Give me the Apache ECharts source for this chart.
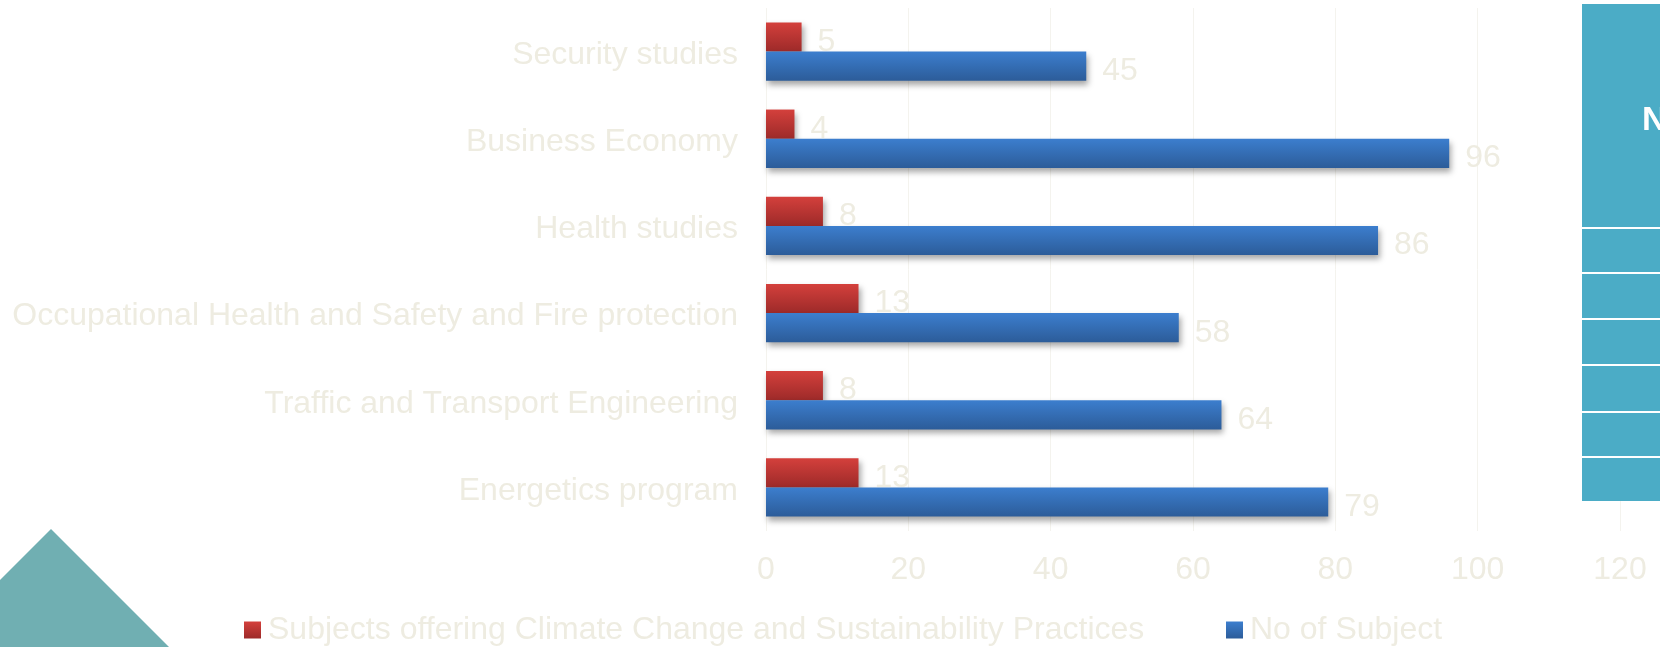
<!DOCTYPE html>
<html>
<head>
<meta charset="utf-8">
<script src="https://cdn.jsdelivr.net/npm/echarts@6/dist/echarts.min.js"></script>
<style>
html,body{margin:0;padding:0;background:#ffffff;}
#chart{width:1660px;height:647px;}
</style>
</head>
<body>
<div id="chart"></div>
<script>
var categories = ['Security studies', 'Business Economy', 'Health studies', 'Occupational Health and Safety and Fire protection', 'Traffic and Transport Engineering', 'Energetics program'];
var climateSubjects = [5, 4, 8, 13, 8, 13];
var totalSubjects = [45, 96, 86, 58, 64, 79];
var seriesNames = ['Subjects offering Climate Change and Sustainability Practices', 'No of Subject'];

var txt = '#EEECE1';
var font = "'Liberation Sans', Arial, sans-serif";

var redGrad = {type:'linear', x:0, y:0, x2:0, y2:1, colorStops:[{offset:0,color:'#D4403C'},{offset:1,color:'#9D2A29'}]};
var blueGrad = {type:'linear', x:0, y:0, x2:0, y2:1, colorStops:[{offset:0,color:'#3C7ECE'},{offset:1,color:'#2C5C99'}]};

var chart = echarts.init(document.getElementById('chart'));
var labelStyle = {show:true, position:'right', distance:16, offset:[0,5], color:txt, fontSize:32, fontFamily:font};
var shadow = {shadowColor:'rgba(0,0,0,0.35)', shadowBlur:6, shadowOffsetX:2, shadowOffsetY:4};

chart.setOption({
  backgroundColor:'#ffffff',
  animation:false,
  grid:{left:766, right:40, top:8, bottom:116, containLabel:false},
  legend:[
    {data:[seriesNames[0]], left:244, top:614, padding:0, itemWidth:17, itemHeight:17, icon:'rect',
     textStyle:{color:txt, fontSize:32, fontFamily:font, padding:[0,0,0,2]}},
    {data:[seriesNames[1]], left:1226, top:614, padding:0, itemWidth:17, itemHeight:17, icon:'rect',
     textStyle:{color:txt, fontSize:32, fontFamily:font, padding:[0,0,0,2]}}
  ],
  xAxis:{type:'value', min:0, max:120, interval:20,
    axisLine:{show:false}, axisTick:{show:false},
    splitLine:{show:true, lineStyle:{color:'#F4F3EE', width:1}},
    axisLabel:{color:txt, fontSize:32, fontFamily:font, margin:23}},
  yAxis:{type:'category', data:categories, inverse:true,
    axisLine:{show:false}, axisTick:{show:false},
    axisLabel:{color:txt, fontSize:32, fontFamily:font, margin:28,
      formatter:function(v){ return '{c|' + v + '}'; },
      rich:{c:{color:txt, fontSize:32, fontFamily:font, padding:[7,0,0,0]}}}},
  series:[
    {name:seriesNames[0], type:'bar', data:climateSubjects, barGap:'0%', barCategoryGap:'33%',
     itemStyle:Object.assign({color:redGrad}, shadow), label:labelStyle},
    {name:seriesNames[1], type:'bar', data:totalSubjects, barGap:'0%', barCategoryGap:'33%',
     itemStyle:Object.assign({color:blueGrad}, shadow), label:labelStyle}
  ],
  graphic:[
    {type:'polygon', z:100, shape:{points:[[0,580],[51,529],[169,647],[0,647]]}, style:{fill:'#70AFB2'}},
    {type:'rect', z:100, shape:{x:1582, y:4, width:78, height:497}, style:{fill:'#4BACC6'}},
    {type:'line', z:101, shape:{x1:1582,y1:228,x2:1660,y2:228}, style:{stroke:'#ffffff', lineWidth:2}},
    {type:'line', z:101, shape:{x1:1582,y1:273,x2:1660,y2:273}, style:{stroke:'#ffffff', lineWidth:2}},
    {type:'line', z:101, shape:{x1:1582,y1:319,x2:1660,y2:319}, style:{stroke:'#ffffff', lineWidth:2}},
    {type:'line', z:101, shape:{x1:1582,y1:365,x2:1660,y2:365}, style:{stroke:'#ffffff', lineWidth:2}},
    {type:'line', z:101, shape:{x1:1582,y1:412,x2:1660,y2:412}, style:{stroke:'#ffffff', lineWidth:2}},
    {type:'line', z:101, shape:{x1:1582,y1:457,x2:1660,y2:457}, style:{stroke:'#ffffff', lineWidth:2}},
    {type:'text', z:102, left:1642, top:104, style:{text:'N', fill:'#ffffff', font:"bold 34px 'Liberation Sans', Arial, sans-serif"}}
  ]
});
</script>
</body>
</html>
